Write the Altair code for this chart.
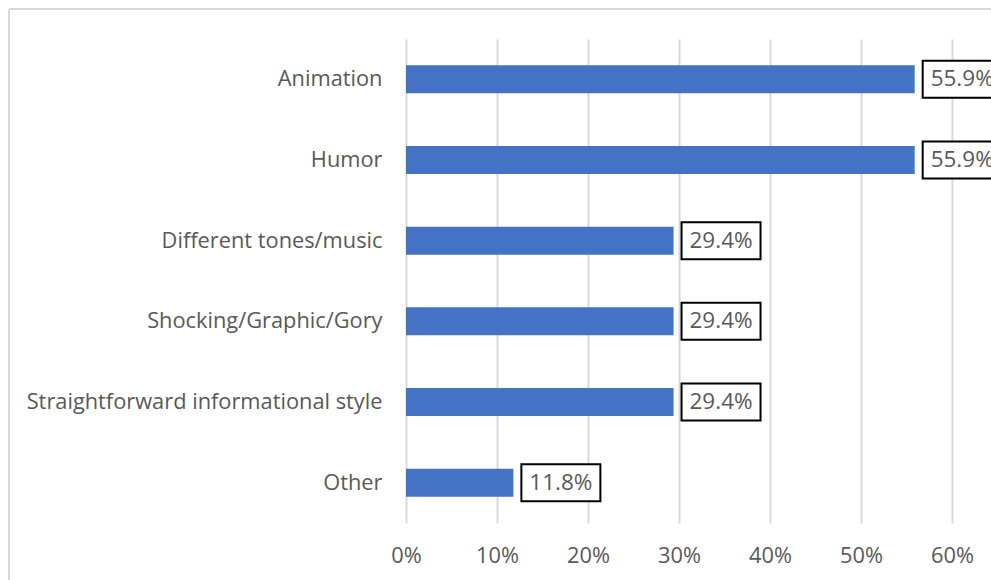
import altair as alt
import pandas as pd

categories = ["Animation", "Humor", "Different tones/music", "Shocking/Graphic/Gory",
              "Straightforward informational style", "Other"]
values = [55.9, 55.9, 29.4, 29.4, 29.4, 11.8]
x_ticks = [0, 10, 20, 30, 40, 50, 60]

df = pd.DataFrame({"category": categories, "value": values})
df["label"] = [f"{v:.1f}%" for v in values]

FONT = "Open Sans"
GRAY = "#595959"
FS = 21.8

y_enc = alt.Y("category:N", sort=categories, title=None,
              scale=alt.Scale(paddingInner=0, paddingOuter=0),
              axis=alt.Axis(domain=False, ticks=False, grid=False, labelPadding=24,
                            labelFontSize=FS, labelColor=GRAY, labelFont=FONT,
                            labelLimit=500))
x_enc = alt.X("value:Q", title=None,
              scale=alt.Scale(domain=[0, 60], nice=False),
              axis=alt.Axis(values=x_ticks, labelExpr="datum.value + '%'",
                            domain=False, ticks=False, grid=True,
                            gridColor="#d9d9d9", gridWidth=2, labelFlush=False,
                            labelPadding=22, labelFontSize=FS, labelColor=GRAY,
                            labelFont=FONT))

bars = alt.Chart(df).mark_bar(size=28, color="#4472C4").encode(y=y_enc, x=x_enc)

boxes = alt.Chart(df).mark_bar(size=37, fill="white", stroke="black", strokeWidth=2,
                               xOffset=8, x2Offset=87).encode(
    y=alt.Y("category:N", sort=categories),
    x=alt.X("value:Q"),
    x2="value:Q",
)

texts = alt.Chart(df).mark_text(dx=47.5, align="center", baseline="middle",
                                fontSize=22.5, font=FONT, color=GRAY).encode(
    y=alt.Y("category:N", sort=categories),
    x=alt.X("value:Q"),
    text="label:N",
)

frame_left = alt.Chart(df).mark_rule(color="#d9d9d9", strokeWidth=2).encode(
    x=alt.value(-397), y=alt.value(-30), y2=alt.value(600))
frame_top = alt.Chart(df).mark_rule(color="#d9d9d9", strokeWidth=2).encode(
    y=alt.value(-30), x=alt.value(-397), x2=alt.value(700))

chart = alt.layer(frame_left, frame_top, bars, boxes, texts).properties(
    width=546, height=484,
    autosize=alt.AutoSizeParams(type="none"),
    padding={"left": 406, "top": 39, "right": 39, "bottom": 57},
    background="white",
).configure_view(stroke=None)

chart.save("out.html", embed_options={"renderer": "svg", "actions": False})
